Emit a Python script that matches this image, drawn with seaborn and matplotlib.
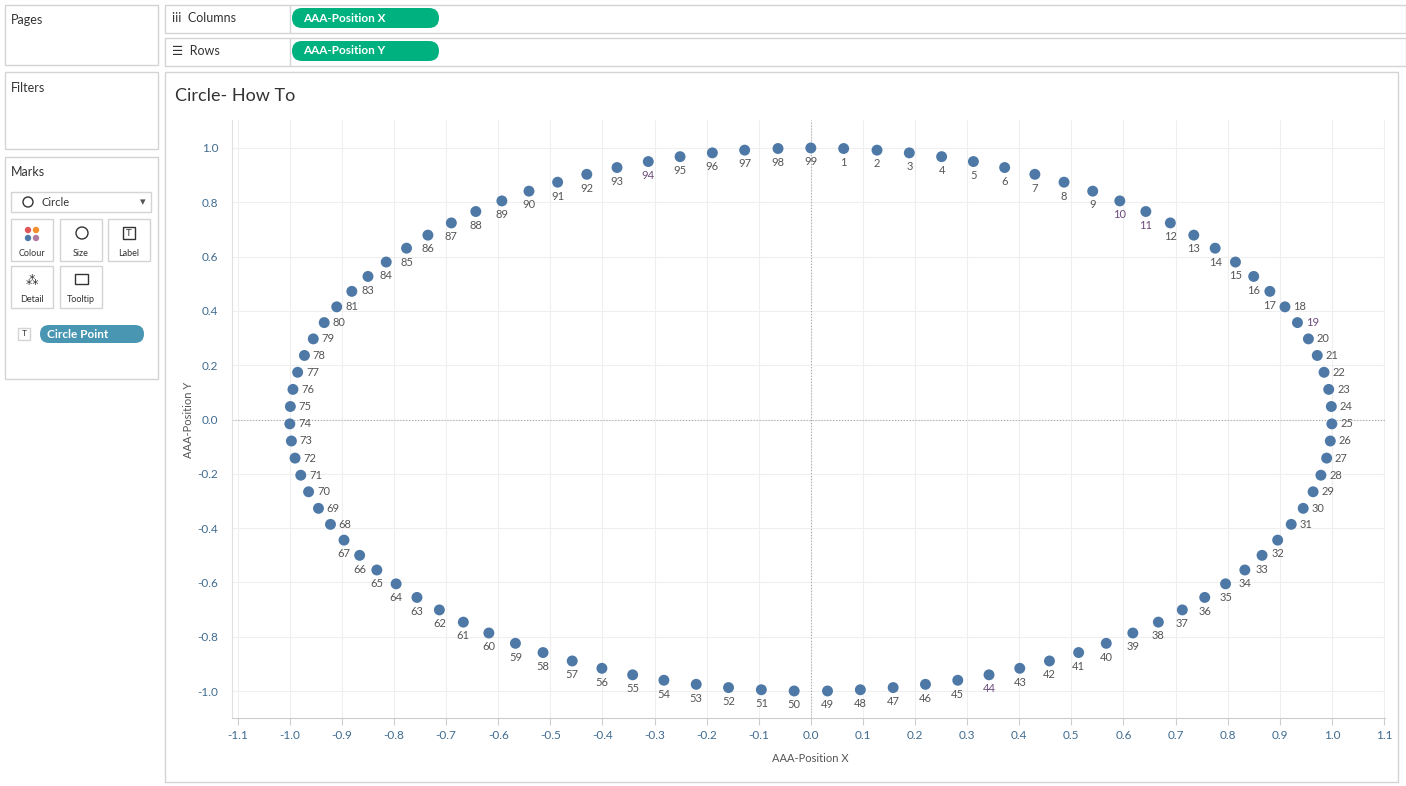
import matplotlib
matplotlib.use("Agg")
import matplotlib.pyplot as plt
import matplotlib.patches as mp
import seaborn as sns
import pandas as pd

# point values (points 1..49, 50..98 mirror them, 99 on top)
point_id = list(range(1, 100))
x_right = [.063, .127, .189, .251, .312, .372, .430, .486, .541, .593, .643, .690, .735,
           .776, .815, .850, .881, .910, .934, .955, .972, .985, .994, .999, 1.0, .997,
           .990, .979, .964, .945, .922, .896, .866, .833, .796, .756, .713, .667, .618,
           .567, .514, .458, .401, .342, .282, .220, .158, .095, .032]
y_right = [.998, .992, .982, .968, .950, .928, .903, .874, .841, .805, .766, .724, .679,
           .631, .580, .527, .472, .415, .357, .297, .236, .174, .111, .048, -.016, -.079,
           -.142, -.205, -.266, -.327, -.386, -.444, -.500, -.554, -.605, -.655, -.701,
           -.746, -.786, -.824, -.858, -.889, -.916, -.940, -.960, -.975, -.987, -.995, -.9995]
pos_x = x_right + [-v for v in x_right[::-1]] + [0.0]
pos_y = y_right + y_right[::-1] + [1.0]
purple_labels = [10, 11, 19, 44, 94]
hidden_labels = [82]

df = pd.DataFrame({"id": point_id, "x": pos_x, "y": pos_y})

sns.set_style("white")
plt.rcParams["font.family"] = ["Lato", "DejaVu Sans"]

fig = plt.figure(figsize=(14.06, 7.86), dpi=100)

# UI chrome drawn in pixel coordinates
ui = fig.add_axes([0, 0, 1, 1])
ui.set_xlim(0, 1406)
ui.set_ylim(786, 0)
ui.axis("off")
border = "#d4d4d4"

def box(x0, y0, x1, y1, fc="white"):
    ui.add_patch(mp.Rectangle((x0, y0), x1 - x0, y1 - y0, fc=fc, ec=border, lw=1))

box(5, 5, 158, 65)
box(5, 72, 158, 149)
box(5, 157, 158, 379)
ui.text(11, 20, "Pages", fontsize=9, color="#333", va="center")
ui.text(11, 88, "Filters", fontsize=9, color="#333", va="center")
ui.text(11, 172, "Marks", fontsize=9, color="#333", va="center")
box(11, 192, 151, 212)
ui.add_patch(mp.Circle((28, 202), 5, fc="none", ec="#333", lw=1))
ui.text(41, 202, "Circle", fontsize=8, color="#333", va="center")
ui.text(143, 202, "▾", fontsize=8, color="#555", va="center", ha="center")
for bx, by, lbl in [(11, 219, "Colour"), (60, 219, "Size"), (108, 219, "Label"),
                    (11, 266, "Detail"), (60, 266, "Tooltip")]:
    box(bx, by, bx + 42, by + 42)
    ui.text(bx + 21, by + 34, lbl, fontsize=6.5, color="#333", ha="center", va="center")
for cx, cy, c in [(28, 230, "#e15759"), (36, 230, "#f28e2b"), (28, 238, "#4e79a7"), (36, 238, "#b07aa1")]:
    ui.add_patch(mp.Circle((cx, cy), 3.2, fc=c, ec="none"))
ui.add_patch(mp.Circle((82, 233), 6, fc="none", ec="#333", lw=1))
ui.add_patch(mp.Rectangle((123, 227), 12, 12, fc="none", ec="#333", lw=1))
ui.text(129, 233, "T", fontsize=7, color="#333", ha="center", va="center")
ui.text(32, 281, "⁂", fontsize=9, color="#333", ha="center", va="center")
ui.add_patch(mp.Rectangle((75, 274), 13, 10, fc="none", ec="#333", lw=1))
ui.add_patch(mp.FancyBboxPatch((40, 325), 104, 18, boxstyle="round,pad=0,rounding_size=9",
                               fc="#4996b2", ec="none"))
ui.text(47, 334, "Circle Point", fontsize=8.5, color="white", fontweight="bold", va="center")
box(18, 328, 30, 340)
ui.text(24, 334, "T", fontsize=6, color="#333", ha="center", va="center")

box(165, 5, 1406, 33)
box(165, 38, 1406, 66)
ui.plot([290, 290], [5, 33], color=border, lw=1)
ui.plot([290, 290], [38, 66], color=border, lw=1)
ui.text(172, 18, "iii  Columns", fontsize=9, color="#333", va="center")
ui.text(172, 51, "☰  Rows", fontsize=9, color="#333", va="center")
for py, lbl in [(18, "AAA-Position X"), (51, "AAA-Position Y")]:
    ui.add_patch(mp.FancyBboxPatch((292, py - 10), 147, 20,
                                   boxstyle="round,pad=0,rounding_size=10",
                                   fc="#00b180", ec="none"))
    ui.text(303, py, lbl, fontsize=8.5, color="white", fontweight="bold", va="center")

box(165, 72, 1398, 782)
ui.text(175, 96, "Circle- How To", fontsize=13, color="#333", va="center")
ui.text(810, 759, "AAA-Position X", fontsize=8, color="#555", ha="center", va="center")
ui.text(188, 420, "AAA-Position Y", fontsize=8, color="#555", ha="center", va="center",
        rotation=90)

# chart area
ax = fig.add_axes([232 / 1406, 68 / 786, 1153 / 1406, 598 / 786])
ax.set_facecolor("none")
sns.scatterplot(data=df, x="x", y="y", ax=ax, color="#4e79a7", s=62, edgecolor="none",
                zorder=3)
for _, r in df.iterrows():
    if r["id"] in hidden_labels:
        continue
    col = "#6b4b7a" if r["id"] in purple_labels else "#555555"
    if abs(r["x"]) > 0.9:
        ax.annotate(str(int(r["id"])), (r["x"], r["y"]), xytext=(6, 0),
                    textcoords="offset points", fontsize=8, color=col, va="center")
    else:
        ax.annotate(str(int(r["id"])), (r["x"], r["y"]), xytext=(0, -6),
                    textcoords="offset points", fontsize=8, color=col, ha="center", va="top")

ax.set_xlim(-1.111, 1.102)
ax.set_ylim(-1.099, 1.103)
ax.set_xticks([i / 10 for i in range(-11, 12)])
ax.set_xticklabels([f"{i / 10:.1f}" for i in range(-11, 12)])
ax.set_yticks([i / 10 for i in range(-10, 11, 2)])
ax.set_yticklabels([f"{i / 10:.1f}" for i in range(-10, 11, 2)])
ax.grid(True, color="#efefef", lw=0.8)
ax.axhline(0, color="#aaaaaa", lw=0.8, ls=":", zorder=1)
ax.axvline(0, color="#aaaaaa", lw=0.8, ls=":", zorder=1)
ax.set_axisbelow(True)
for s in ["top", "right"]:
    ax.spines[s].set_visible(False)
ax.spines["left"].set_color("#e0e0e0")
ax.spines["bottom"].set_color("#cccccc")
ax.tick_params(axis="x", length=5, color="#cccccc", labelsize=8.5, labelcolor="#3f6b8f",
               direction="out", bottom=True)
ax.tick_params(axis="y", length=0, labelsize=8.5, labelcolor="#3f6b8f", pad=10)
ax.set_xlabel("")
ax.set_ylabel("")

fig.savefig("out.png", dpi=100)
